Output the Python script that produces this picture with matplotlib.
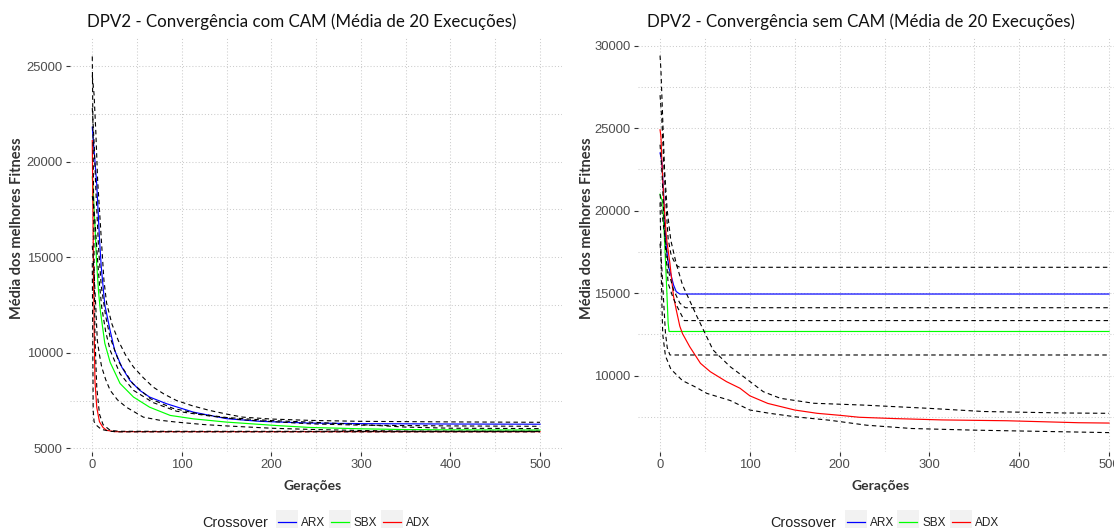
import matplotlib
matplotlib.use("Agg")
import matplotlib.pyplot as plt
from matplotlib.lines import Line2D
from matplotlib.patches import Rectangle
from matplotlib.ticker import MultipleLocator

# ---------------- data: DPV2 com CAM ----------------
com_arx_gen = [0, 1, 3, 5, 8, 10, 14, 20, 25, 33, 42, 53, 64, 83, 113, 150, 187, 243, 300, 400, 500]
com_arx_mean = [21800, 21200, 20000, 18800, 16000, 14500, 12500, 11150, 10130, 9250, 8560, 8040, 7690,
                7340, 6900, 6560, 6420, 6330, 6300, 6280, 6270]
com_arx_hi_gen = [0, 2, 4, 6, 8, 10, 13, 16, 22, 29, 37, 46, 57, 68, 80, 94, 112, 131, 150, 168, 200,
                  243, 300, 400, 500]
com_arx_hi = [24500, 23500, 21500, 19000, 17500, 16000, 13800, 12600, 11500, 10650, 9900, 9260, 8700,
              8210, 7850, 7510, 7230, 6990, 6800, 6640, 6540, 6470, 6420, 6390, 6370]
com_arx_lo_gen = [0, 2, 4, 6, 8, 10.5, 15, 20, 31, 46, 68, 94, 131, 168, 243, 300, 400, 500]
com_arx_lo = [18200, 17500, 16200, 14800, 13600, 12400, 11100, 10130, 8910, 8040, 7400, 6950, 6700,
              6500, 6290, 6220, 6180, 6160]

com_sbx_gen = [0, 1, 3, 5, 7, 9, 14, 20, 31, 46, 64, 87, 113, 150, 206, 243, 300, 350, 400, 500]
com_sbx_mean = [19200, 18500, 16600, 14600, 13200, 12200, 10500, 9500, 8400, 7690, 7160, 6730, 6550,
                6380, 6200, 6100, 6030, 5990, 5975, 5965]
com_sbx_hi_gen = [0, 2, 4, 7, 10, 15, 20, 30, 45, 65, 90, 120, 150, 200, 243, 300, 350, 400, 500]
com_sbx_hi = [22800, 21000, 18500, 15500, 13500, 11900, 10800, 9500, 8400, 7600, 7100, 6800, 6620,
              6460, 6380, 6250, 6120, 6060, 6040]
com_sbx_lo_gen = [0, 2, 4, 5.6, 8, 10.5, 15, 20, 28, 38, 57, 75, 94, 125, 150, 200, 250, 300, 350, 500]
com_sbx_lo = [15600, 14200, 12300, 10650, 9900, 9260, 8600, 8040, 7550, 7160, 6640, 6480, 6380, 6250,
              6180, 6060, 5990, 5940, 5910, 5900]

com_adx_gen = [0, 1, 2, 3, 5, 8, 12, 16, 25, 500]
com_adx_mean = [21100, 16000, 11500, 8500, 7150, 6400, 6100, 5950, 5880, 5880]
com_adx_hi_gen = [0, 1, 2, 3, 5, 8, 12, 20, 30, 500]
com_adx_hi = [25500, 20500, 15000, 10800, 8200, 6800, 6250, 5950, 5900, 5895]
com_adx_lo_gen = [0, 1, 2, 5, 10, 20, 30, 500]
com_adx_lo = [14700, 7000, 6400, 6200, 6000, 5900, 5870, 5870]

# ---------------- data: DPV2 sem CAM ----------------
sem_arx_gen = [0, 2, 4, 5, 7, 10, 12, 15, 18, 22, 500]
sem_arx_mean = [23500, 23000, 21000, 19300, 17800, 16500, 16150, 15500, 15100, 14950, 14950]
sem_arx_hi_gen = [0, 2, 4, 7, 9, 12, 15, 19, 22, 500]
sem_arx_hi = [27000, 25500, 23000, 20000, 18300, 17400, 17000, 16650, 16570, 16570]
sem_arx_lo_gen = [0, 2, 4, 6, 10, 15, 22, 28, 500]
sem_arx_lo = [21000, 20000, 19000, 18200, 16200, 15200, 14400, 14120, 14120]

sem_sbx_gen = [0, 3, 5, 7, 8, 9, 10, 500]
sem_sbx_mean = [21000, 20500, 18200, 15800, 14500, 13200, 12680, 12680]
sem_sbx_hi_gen = [0, 2, 4, 6, 9, 14, 18, 27, 500]
sem_sbx_hi = [24000, 22500, 20000, 17800, 15600, 14800, 14300, 13340, 13340]
sem_sbx_lo_gen = [0, 2, 4, 6, 8, 11, 500]
sem_sbx_lo = [18000, 16500, 14500, 12600, 11700, 11255, 11255]

sem_adx_gen = [0, 1, 2, 4, 7, 11, 15, 18, 22, 25, 33, 45, 56, 74, 89, 100, 120, 150, 175, 200, 222,
               262, 314, 386, 466, 500]
sem_adx_mean = [24900, 24500, 23000, 20800, 18400, 16800, 14800, 14000, 13000, 12550, 11760, 10750,
                10240, 9640, 9240, 8780, 8320, 7920, 7720, 7600, 7480, 7400, 7320, 7270, 7150, 7130]
sem_adx_hi_gen = [0, 1, 3, 5, 8, 12, 18, 25, 41, 59, 78, 93, 115, 134, 171, 226, 300, 360, 450, 500]
sem_adx_hi = [29400, 28500, 25500, 22500, 20000, 18200, 16800, 15500, 13600, 11560, 10550, 9940,
              9030, 8630, 8330, 8220, 8020, 7830, 7740, 7720]
sem_adx_lo_gen = [0, 1, 2, 3, 6, 12, 25, 40, 52, 78, 100, 122, 152, 189, 230, 280, 350, 450, 500]
sem_adx_lo = [20500, 17500, 14500, 12500, 11200, 10400, 9700, 9300, 8930, 8500, 7920, 7720, 7500,
              7300, 7000, 6800, 6700, 6600, 6550]

crossovers = ["ARX", "SBX", "ADX"]
colors = {"ARX": "#0000FF", "SBX": "#00FF00", "ADX": "#FF0000"}

panels = [
    {
        "title": "DPV2 - Convergência com CAM (Média de 20 Execuções)",
        "series": {
            "ARX": (com_arx_gen, com_arx_mean, com_arx_hi_gen, com_arx_hi, com_arx_lo_gen, com_arx_lo),
            "SBX": (com_sbx_gen, com_sbx_mean, com_sbx_hi_gen, com_sbx_hi, com_sbx_lo_gen, com_sbx_lo),
            "ADX": (com_adx_gen, com_adx_mean, com_adx_hi_gen, com_adx_hi, com_adx_lo_gen, com_adx_lo),
        },
        "ylim": (4843, 26485),
        "yticks": [5000, 10000, 15000, 20000, 25000],
    },
    {
        "title": "DPV2 - Convergência sem CAM (Média de 20 Execuções)",
        "series": {
            "ARX": (sem_arx_gen, sem_arx_mean, sem_arx_hi_gen, sem_arx_hi, sem_arx_lo_gen, sem_arx_lo),
            "SBX": (sem_sbx_gen, sem_sbx_mean, sem_sbx_hi_gen, sem_sbx_hi, sem_sbx_lo_gen, sem_sbx_lo),
            "ADX": (sem_adx_gen, sem_adx_mean, sem_adx_hi_gen, sem_adx_hi, sem_adx_lo_gen, sem_adx_lo),
        },
        "ylim": (5406, 30491),
        "yticks": [10000, 15000, 20000, 25000, 30000],
    },
]

TICK_FONT = "Liberation Sans"
TITLE_FONT = "Lato"
TICK_COLOR = "#4D4D4D"
plt.rcParams["font.family"] = [TICK_FONT, "DejaVu Sans"]

W, H = 1114, 528
fig = plt.figure(figsize=(W / 100, H / 100), dpi=100)
fig.patch.set_facecolor("white")

# panel boxes in pixels: (left, right, top, bottom)
boxes = [(69.9, 562.4, 37.6, 451.5), (637.6, 1131.5, 37.6, 451.5)]
title_x = [302, 861]
ylabel_x = [17, 587]


def fx(px):
    return px / W


def fy(py):
    return 1 - py / H


for panel, (l, r, t, b), tx, yx in zip(panels, boxes, title_x, ylabel_x):
    ax = fig.add_axes([fx(l), fy(b), (r - l) / W, (b - t) / H])
    ax.set_facecolor("white")
    for s in ax.spines.values():
        s.set_visible(False)
    ax.set_xlim(-25, 525)
    ax.set_ylim(*panel["ylim"])
    ax.xaxis.set_major_locator(MultipleLocator(100))
    ax.xaxis.set_minor_locator(MultipleLocator(50))
    ax.set_yticks(panel["yticks"])
    ax.yaxis.set_minor_locator(MultipleLocator(2500))
    ax.grid(which="both", color="#CCCCCC", linewidth=0.75, linestyle=(0, (1, 2)))
    ax.set_axisbelow(True)
    ax.tick_params(which="major", length=2.9, width=0.8, color="#333333", pad=2.2,
                   labelsize=9.4, labelcolor=TICK_COLOR, labelfontfamily=TICK_FONT)
    ax.tick_params(which="minor", length=0)

    for name in crossovers:
        g, m, gh, hi, gl, lo = panel["series"][name]
        ax.plot(g, m, color=colors[name], linewidth=0.85, zorder=3, solid_joinstyle="round")
    for name in crossovers:
        g, m, gh, hi, gl, lo = panel["series"][name]
        ax.plot(gh, hi, color="black", linewidth=0.8, dashes=(4, 3), zorder=4)
        ax.plot(gl, lo, color="black", linewidth=0.8, dashes=(4, 3), zorder=4)

    # titles and axis titles
    fig.text(fx(tx), fy(22), panel["title"], ha="center", va="center",
             fontsize=12.2, family=TITLE_FONT, color="#111111")
    fig.text(fx((l + r) / 2 - 4), fy(486), "Gerações", ha="center", va="center",
             fontsize=10, family=TITLE_FONT, fontweight="bold", color="#333333")
    fig.text(fx(yx), fy((t + b) / 2 - 16), "Média dos melhores Fitness", ha="center", va="center",
             rotation=90, fontsize=10.5, family=TITLE_FONT, fontweight="bold", color="#333333")

    # legend drawn below the panel
    cx = (l + r) / 2
    x0 = cx - 114
    fig.text(fx(x0), fy(523), "Crossover", ha="left", va="center", fontsize=10.4,
             family=TICK_FONT, color="#222222")
    kx = x0 + 74
    for name in crossovers:
        fig.patches.append(Rectangle((fx(kx), fy(534)), 22 / W, 24 / H, transform=fig.transFigure,
                                     facecolor="#F2F2F2", edgecolor="none"))
        fig.lines.append(Line2D([fx(kx + 2), fx(kx + 20)], [fy(521.7), fy(521.7)],
                                transform=fig.transFigure, color=colors[name], linewidth=0.9))
        fig.text(fx(kx + 25), fy(523), name, ha="left", va="center", fontsize=8.5,
                 family=TICK_FONT, color="#222222")
        kx += 52.5

fig.savefig("out.png", dpi=100, facecolor="white")
